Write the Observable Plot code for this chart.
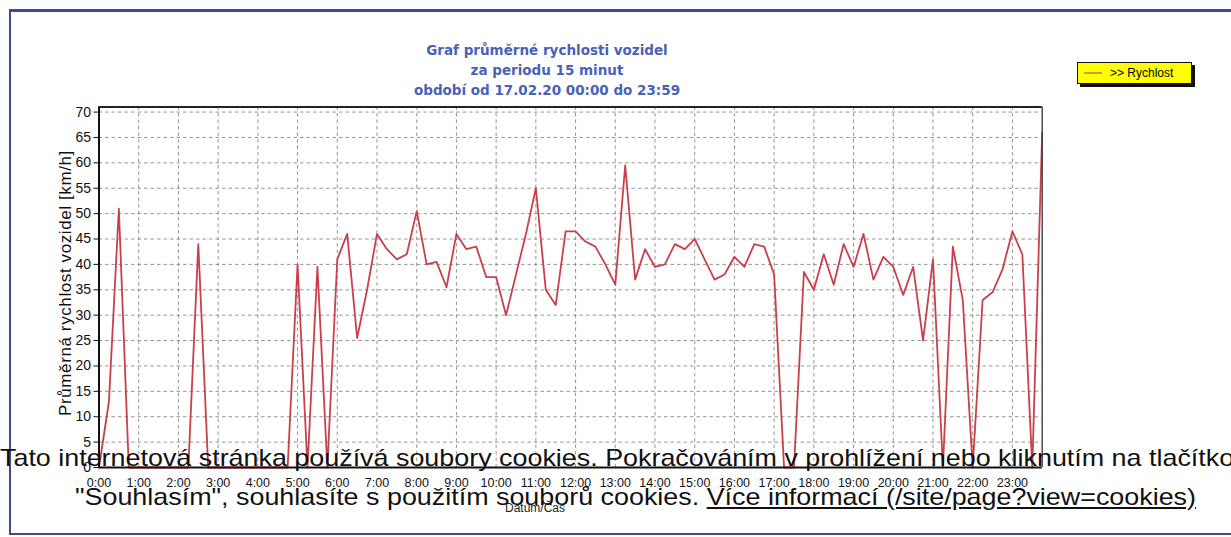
<!DOCTYPE html>
<html><head><meta charset="utf-8">
<script src="https://cdn.jsdelivr.net/npm/d3@7"></script>
<script src="https://cdn.jsdelivr.net/npm/@observablehq/plot@0.6"></script>
<style>
html,body{margin:0;padding:0;background:#fff;}
body{width:1231px;height:537px;overflow:hidden;position:relative;font-family:"Liberation Sans",Arial,sans-serif;}
#chart{position:absolute;left:0;top:0;}
.abs{position:absolute;white-space:nowrap;}
#frame{position:absolute;left:9px;top:9px;width:1240px;height:521px;border-top:3px solid #2f4f9c;border-left:2px solid #3a4f8a;border-bottom:2px solid #3a4f8a;}
#title{left:297px;top:40px;width:500px;text-align:center;font-family:"DejaVu Sans",Verdana,sans-serif;font-weight:bold;font-size:13.5px;line-height:20px;color:#4862b8;}
#legend{left:1077px;top:62px;width:113px;height:20px;background:#ffff00;border:1px solid #111;box-shadow:3px 3px 0 #111;}
#legend .sw{position:absolute;left:6px;top:9px;width:18px;height:2px;background:#d99a3c;}
#legend .tx{position:absolute;left:32px;top:3px;font-size:12px;line-height:14px;color:#000;}
#ylab{left:66px;top:283px;transform:translate(-50%,-50%) rotate(-90deg);font-size:17px;letter-spacing:0.6px;color:#111;}
#xlab{left:535px;top:501px;transform:translateX(-50%);font-size:12px;color:#222;}
.cookie{font-size:24px;line-height:24px;color:#111;transform:scaleX(1.12);transform-origin:0 0;}
#c1{left:0px;top:445.7px;}
#c2{left:75px;top:484.7px;}
#c2 u{text-decoration:underline;}
</style></head><body>
<div id="frame"></div>
<div id="chart"></div>
<div id="title" class="abs">Graf průměrné rychlosti vozidel<br>za periodu 15 minut<br>období od 17.02.20 00:00 do 23:59</div>
<div id="legend" class="abs"><div class="sw"></div><div class="tx">&gt;&gt; Rychlost</div></div>
<div id="ylab" class="abs">Průměrná rychlost vozidel [km/h]</div>
<div id="xlab" class="abs">Datum/Čas</div>
<div id="c1" class="abs cookie">Tato internetová stránka používá soubory cookies. Pokračováním v prohlížení nebo kliknutím na tlačítko</div>
<div id="c2" class="abs cookie">"Souhlasím", souhlasíte s použitím souborů cookies. <u>Více informací (/site/page?view=cookies)</u></div>
<script>
// 15-minute average speeds, 17.02.20 00:00 – 23:45 (km/h)
const speeds = [
  0, 13, 51, 0, 0, 0, 0, 0, 0, 0, 44, 0,
  0, 0, 0, 0, 0, 0, 0, 0, 40, 0, 39.5, 0,
  41, 46, 25.5, 35, 46, 43, 41, 42, 50.5, 40, 40.5, 35.5,
  46, 43, 43.5, 37.5, 37.5, 30, 38, 46, 55, 35, 32, 46.5,
  46.5, 44.5, 43.5, 40, 36, 59.5, 37, 43, 39.5, 40, 44, 43,
  45, 41, 37, 38, 41.5, 39.5, 44, 43.5, 38, 0, 0, 38.5,
  35, 42, 36, 44, 39.5, 46, 37, 41.5, 39.5, 34, 39.5, 25,
  41, 0, 43.5, 33, 0, 33, 34.5, 39, 46.5, 42, 0, 66
];
const intervalMinutes = 15;
const hourTicks = [0,1,2,3,4,5,6,7,8,9,10,11,12,13,14,15,16,17,18,19,20,21,22,23];
const hourLabels = ["0:00","1:00","2:00","3:00","4:00","5:00","6:00","7:00","8:00","9:00","10:00","11:00","12:00","13:00","14:00","15:00","16:00","17:00","18:00","19:00","20:00","21:00","22:00","23:00"];
const yTicks = [0,5,10,15,20,25,30,35,40,45,50,55,60,65,70];

const data = speeds.map((v, i) => ({t: i * intervalMinutes / 60, v}));
const lastT = (speeds.length - 1) * intervalMinutes / 60;

const grid = {stroke:"#7a7a7a", strokeOpacity:0.8, strokeWidth:1, strokeDasharray:"3.5,3"};
const chart = Plot.plot({
  width: 1231, height: 537,
  marginLeft: 98.5, marginRight: 1231 - 1041.7, marginTop: 106.5, marginBottom: 70,
  x: {domain: [0, lastT]},
  y: {domain: [0, 71]},
  style: {background: "transparent", fontFamily: "Liberation Sans, Arial, sans-serif", color: "#111"},
  marks: [
    Plot.gridY(yTicks, grid),
    Plot.gridX(hourTicks, grid),
    Plot.lineY(data, {x: "t", y: "v", stroke: "#c8404c", strokeWidth: 1.8}),
    Plot.ruleX([0], {stroke: "#111", strokeWidth: 2}),
    Plot.ruleX([lastT], {stroke: "#333", strokeWidth: 1.3}),
    Plot.ruleY([0], {stroke: "#111", strokeWidth: 2}),
    Plot.ruleY([71], {stroke: "#222", strokeWidth: 2}),
    Plot.axisY(yTicks, {tickSize: 5, tickPadding: 3, fontSize: 14, label: null}),
    Plot.axisX(hourTicks, {tickSize: 0, tickPadding: 11, fontSize: 12.5, label: null, tickFormat: d => hourLabels[d]})
  ]
});
document.getElementById("chart").appendChild(chart);
</script>
</body></html>
